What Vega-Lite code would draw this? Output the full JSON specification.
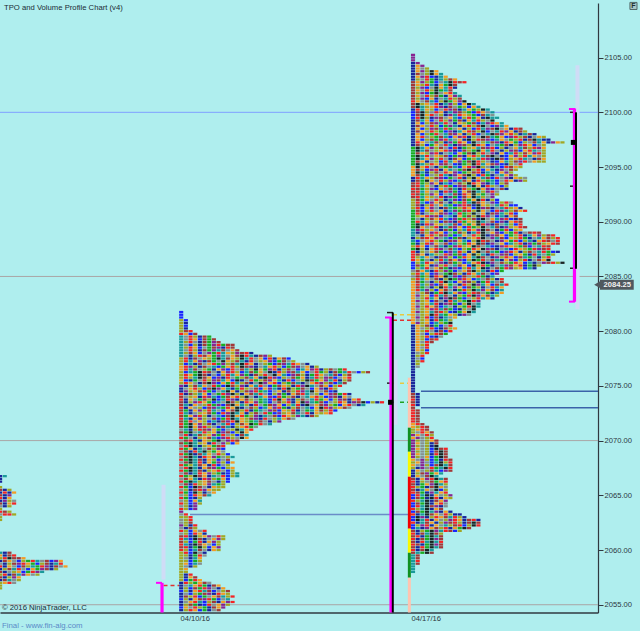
{"$schema":"https://vega.github.io/schema/vega-lite/v6.json","width":598,"height":609.5,"autosize":"none","padding":{"left":0,"top":3,"right":42,"bottom":18.5},"background":"#AFEEEE","config":{"view":{"stroke":null},"font":"Liberation Sans"},
"datasets":{
"a":[{"p":2066.75,"c":[1,9]},{"p":2066.5,"c":[1]},{"p":2066.25,"c":[1]},{"p":2065.75,"c":[6]},{"p":2065.5,"c":[4,1,6]},{"p":2065.25,"c":[1,3,1,5]},{"p":2065,"c":[4,1,8]},{"p":2064.75,"c":[3,1,5]},{"p":2064.5,"c":[1,8,6,7]},{"p":2064.25,"c":[4,1,5,3]},{"p":2064,"c":[7,1,6]},{"p":2063.75,"c":[6]},{"p":2063.5,"c":[3,4,6]},{"p":2063.25,"c":[7,3,3,6]},{"p":2063,"c":[6]},{"p":2062.75,"c":[6]},{"p":2059.75,"c":[9,1,4]},{"p":2059.5,"c":[5,1,4,3]},{"p":2059.25,"c":[6,3,0,4,4,5]},{"p":2059,"c":[1,4,5,7,2,6,10,3,9,7,4,2,8,5]},{"p":2058.75,"c":[7,1,6,4,8,3,5,10,2,6,4,1,9,3]},{"p":2058.5,"c":[3,1,5,7,2,4,6,9,10,3,8,1,4,7,5]},{"p":2058.25,"c":[1,6,4,9,3,7,2,5,10,8,4,1,6]},{"p":2058,"c":[4,1,7,6,5,2,10,3,8,9]},{"p":2057.75,"c":[6,3,1,4,9,8,5,7,6]},{"p":2057.5,"c":[4,1,6,8,5]},{"p":2057.25,"c":[1,4,9,7,6]},{"p":2057,"c":[6,5,3,7]},{"p":2056.75,"c":[6]},{"p":2056.5,"c":[6]}],
"b":[{"p":2081.75,"c":[2]},{"p":2081.5,"c":[2]},{"p":2081.25,"c":[2]},{"p":2081,"c":[6,2]},{"p":2080.75,"c":[6,1]},{"p":2080.5,"c":[6,2]},{"p":2080.25,"c":[6,1]},{"p":2080,"c":[6,4,3]},{"p":2079.75,"c":[3,5,2,4]},{"p":2079.5,"c":[9,7,3,6,1,4,10]},{"p":2079.25,"c":[9,7,3,5,2,4,10,4]},{"p":2079,"c":[9,6,3,7,1,4,10,8,4]},{"p":2078.75,"c":[9,7,2,6,1,4,10,8,3,10,4,4]},{"p":2078.5,"c":[9,6,3,5,2,7,10,4,8,1,3,4]},{"p":2078.25,"c":[9,7,3,6,1,4,10,8,9,4,7,5,4]},{"p":2078,"c":[9,6,4,5,2,7,8,10,3,9,5,6,8,4,3,1]},{"p":2077.75,"c":[9,7,1,6,3,4,5,10,8,9,7,5,4,0,3,9,1,4,8,6]},{"p":2077.5,"c":[6,3,1,4,7,5,6,10,0,9,4,5,6,0,9,3,7,5,2,3,1,5,4,2]},{"p":2077.25,"c":[6,3,9,5,8,1,4,10,7,0,5,6,4,9,1,3,7,6,5,8,2,10,4,7,6]},{"p":2077,"c":[6,2,9,1,4,7,5,3,10,8,6,4,9,0,3,5,1,7,6,10,2,4,8,9,3,5,7,1]},{"p":2076.75,"c":[5,3,8,6,1,4,7,9,2,10,5,3,6,0,4,8,1,7,9,5,3,6,2,10,4,8,7,5,1,6]},{"p":2076.5,"c":[5,3,9,4,7,6,10,1,5,8,2,3,7,4,9,6,0,5,10,8,3,1,6,4,7,2,9,5,8,3,1,6,4,7,10,3]},{"p":2076.25,"c":[6,2,9,10,0,3,4,7,1,5,8,3,6,2,9,4,10,5,7,0,1,3,6,8,4,9,5,2,7,3,10,6,1,4,10,9,3,7,2,6,4]},{"p":2076,"c":[6,3,5,10,0,4,1,7,2,6,3,9,5,8,10,1,4,6,3,7,0,5,9,2,8,4,6,1,10,3,5,7,9,4,2,6,4]},{"p":2075.75,"c":[6,3,6,9,0,4,5,2,8,1,3,7,10,6,4,9,5,1,0,3,8,2,6,7,4,10,5,1,9,3,6,8,4,2,7,5,3]},{"p":2075.5,"c":[5,2,1,10,7,3,6,8,4,9,5,2,0,1,7,3,10,6,4,8,5,9,1,3,2,7,6,0,4,10,5,8,9,3,1,6,4]},{"p":2075.25,"c":[6,3,5,7,1,4,0,8,2,5,10,3,9,6,4,1,7,0,8,5,3,2,6,10,4,9,1,7,5,3,8,6,4,2,9,4]},{"p":2075,"c":[8,1,6,4,9,5,7,3,10,2,0,4,6,8,1,5,9,3,7,2,10,4,5,6,1,3,8,0,9,7,4,5,2,6,3]},{"p":2074.75,"c":[1,7,5,3,6,2,4,0,8,5,9,1,10,3,6,7,4,2,5,8,9,1,3,0,6,10,4,7,2,5,8,1,3,6]},{"p":2074.5,"c":[1,8,6,5,4,3,10,2,7,9,0,5,1,6,4,8,3,10,9,2,7,5,1,4,6,3,8,9,0,5,7,4,2,1]},{"p":2074.25,"c":[3,1,4,6,9,5,2,7,10,3,8,0,6,1,5,4,9,3,7,2,6,8,10,1,5,4,3,9,7,6,2,5,8,4,10,3,1]},{"p":2074,"c":[4,7,6,5,1,3,8,9,2,10,4,5,3,6,0,7,1,9,5,8,2,3,10,6,4,1,7,9,5,3,6,2,8,4,1,5,7]},{"p":2073.75,"c":[3,1,5,7,10,4,6,0,2,9,3,8,1,5,4,6,7,10,9,2,3,0,5,8,1,6,4,7,9,3,10,5,2,6,8,4,1,5,3]},{"p":2073.5,"c":[4,1,6,8,3,5,10,2,9,7,0,4,6,1,3,5,8,10,9,2,7,4,6,3,1,5,0,8,9,10,4,2,7,6,3,5,1,8,4,0,2,6,1,3]},{"p":2073.25,"c":[4,9,1,5,7,6,3,10,8,2,4,0,5,9,6,1,3,7,10,4,8,5,2,6,9,3,1,0,7,5,4,8,6,10,2,5,3,7,1,9]},{"p":2073,"c":[3,1,5,7,6,2,4,8,9,10,3,5,0,1,7,4,6,2,9,5,8,3,10,1,6,4,7,9,2,5,0,3,8,6,5,4,7]},{"p":2072.75,"c":[4,10,1,5,8,6,3,9,7,2,5,4,0,6,3,1,10,9,7,8,4,2,5,6,3,1,7,10,9,5,4,6,3,2]},{"p":2072.5,"c":[3,9,1,7,6,5,4,10,2,3,8,0,9,5,1,6,4,7,3,10,2,8,6,5,4,9,7,3,1,5,6,5,3]},{"p":2072.25,"c":[4,10,5,8,3,6,1,7,9,2,4,0,5,3,10,6,8,1,9,7,4,2,3,5,6,8,9,1,4,6]},{"p":2072,"c":[3,9,1,5,8,6,7,4,2,10,3,0,9,5,6,4,8,1,3,7,6,9,5,4,7]},{"p":2071.75,"c":[4,10,3,7,5,6,2,9,1,4,8,3,0,5,6,10,9,4,7,1,6,8]},{"p":2071.5,"c":[3,10,0,5,8,6,4,1,7,9,3,2,6,4,5,0,10,3,7,9]},{"p":2071.25,"c":[4,10,0,5,8,3,6,7,2,4,9,1,6,5,3,10,7]},{"p":2071,"c":[7,9,1,6,3,4,8,5,10,2,7,6,0,9,5,3]},{"p":2070.75,"c":[4,10,0,7,9,3,6,5,1,8,4,2,6,0,5]},{"p":2070.5,"c":[7,3,1,9,4,6,5,8,10,3,7,6,2,4,9]},{"p":2070.25,"c":[3,10,7,1,6,5,4,9,2,8,3,6,7,0,5]},{"p":2070,"c":[7,4,3,9,1,5,6,10,0,7,8,3,4]},{"p":2069.75,"c":[4,10,0,9,6,5,1,3,7,8,6,2,5]},{"p":2069.5,"c":[7,3,0,9,1,6,5,10,4,3]},{"p":2069.25,"c":[3,10,5,1,9,7,4,6,8,2]},{"p":2069,"c":[7,4,1,3,9,0,6,10,5,7]},{"p":2068.75,"c":[3,10,0,1,4,9,5,7,3,6,2]},{"p":2068.5,"c":[7,4,0,9,1,3,5,8,10,7,6,9]},{"p":2068.25,"c":[3,10,0,9,4,1,5,6,2,7,4]},{"p":2068,"c":[7,4,0,9,3,1,5,10,8,6,2,5]},{"p":2067.75,"c":[3,10,6,9,4,5,1,3,2,7,6]},{"p":2067.5,"c":[7,3,0,9,1,5,4,8,10,2,6,5]},{"p":2067.25,"c":[3,10,0,9,4,1,6,5,3,7,2,6]},{"p":2067,"c":[7,4,1,9,3,5,8,6,10,1,2,6,9]},{"p":2066.75,"c":[3,10,6,0,4,5,1,9,7,3,2,6,9]},{"p":2066.5,"c":[7,4,5,9,1,3,8,6,10,5,2]},{"p":2066.25,"c":[3,10,0,9,6,5,4,7,1,6,2]},{"p":2066,"c":[7,4,1,3,6,5,8,9,10,6]},{"p":2065.75,"c":[3,10,2,0,4,7,1,5,6,6]},{"p":2065.5,"c":[7,6,1,4,3,8,5,6,6]},{"p":2065.25,"c":[3,10,2,0,6,1,7,5]},{"p":2065,"c":[7,6,2,3,5,4,9]},{"p":2064.75,"c":[3,10,2,1,6]},{"p":2064.5,"c":[7,6,2,5,9]},{"p":2064.25,"c":[3,6,2,8,6]},{"p":2064,"c":[7,6,1,8]},{"p":2063.75,"c":[3,6,2,8]},{"p":2063.5,"c":[8]},{"p":2063.25,"c":[7,3]},{"p":2063,"c":[6,6,3]},{"p":2062.75,"c":[7,6,3]},{"p":2062.5,"c":[7,6,4]},{"p":2062.25,"c":[8,6,1,3]},{"p":2062,"c":[7,1,4,6]},{"p":2061.75,"c":[3,6,2,5,7,3]},{"p":2061.5,"c":[7,6,2,3,5,1]},{"p":2061.25,"c":[4,3,1,0,6,5,8,7,3,6]},{"p":2061,"c":[3,9,2,0,4,1,7,5,8,6]},{"p":2060.75,"c":[4,6,2,10,3,1,5,8,6]},{"p":2060.5,"c":[3,9,1,0,4,5,7,2,6]},{"p":2060.25,"c":[4,3,1,10,0,6,2,5,8]},{"p":2060,"c":[3,6,2,9,4,7,1,5,6]},{"p":2059.75,"c":[6,3,2,0,7,1]},{"p":2059.5,"c":[6,6,1,10,3,7]},{"p":2059.25,"c":[6,7,1,9,5]},{"p":2059,"c":[6,6,2,10,6]},{"p":2058.75,"c":[6,5,2,9,7]},{"p":2058.5,"c":[6,7,1,6]},{"p":2058.25,"c":[6,5]},{"p":2058,"c":[6,6]},{"p":2057.75,"c":[6,1,3]},{"p":2057.5,"c":[6,1,5,4]},{"p":2057.25,"c":[6,2,10,3,5]},{"p":2057,"c":[1,3,6,10,5,4,7]},{"p":2056.75,"c":[1,7,9,5,3,10,1,4,5]},{"p":2056.5,"c":[1,6,2,4,10,3,8,7,1,5]},{"p":2056.25,"c":[2,6,1,5,3,9,4,2,7,6,4]},{"p":2056,"c":[1,7,2,6,10,4,8,1,3,5,6]},{"p":2055.75,"c":[1,4,6,3,2,10,7,5,4,9,6,3]},{"p":2055.5,"c":[2,6,1,5,4,8,3,10,2,7,9]},{"p":2055.25,"c":[1,7,5,3,9,2,6,4,1,5,8,3]},{"p":2055,"c":[1,6,4,10,1,2,3,7,5,8,6]},{"p":2054.75,"c":[2,5,7,3,6,10,1,4,5,8]},{"p":2054.5,"c":[1,6,3,5,2,10,1,7,4]}],
"c":[{"p":2105.25,"c":[8]},{"p":2105,"c":[8]},{"p":2104.75,"c":[8]},{"p":2104.5,"c":[1,8]},{"p":2104.25,"c":[1,5,8]},{"p":2104,"c":[1,5,7,6]},{"p":2103.75,"c":[1,5,8,6,0,5]},{"p":2103.5,"c":[1,4,7,6,0,5,9]},{"p":2103.25,"c":[1,5,8,3,2,1,9,5]},{"p":2103,"c":[1,6,7,3,10,1,9,6,4,5]},{"p":2102.75,"c":[4,5,8,6,10,2,7,9,0,3,4,3]},{"p":2102.5,"c":[4,5,6,3,9,1,5,10,0,4]},{"p":2102.25,"c":[4,6,8,2,7,0,5,9,3,1]},{"p":2102,"c":[4,5,7,3,6,0,10,9,4]},{"p":2101.75,"c":[4,6,8,2,10,0,7,5,3,9]},{"p":2101.5,"c":[4,5,7,3,6,4,10,1,5,8,9]},{"p":2101.25,"c":[4,6,8,2,5,1,7,9,3,6,4]},{"p":2101,"c":[3,5,7,4,9,2,6,0,10,5,8,0]},{"p":2100.75,"c":[4,0,6,5,7,3,1,9,8,6,2,5,0,9]},{"p":2100.5,"c":[4,0,9,6,5,3,8,1,4,7,10,6,2,5,9]},{"p":2100.25,"c":[1,3,9,5,6,2,7,3,8,4,1,9,5,10,6,0,9]},{"p":2100,"c":[2,4,0,6,7,3,5,1,9,8,4,6,10,2,3,5,7,9]},{"p":2099.75,"c":[2,4,0,5,3,7,6,1,8,9,3,5,6,10,2,4,9,7]},{"p":2099.5,"c":[2,3,0,6,1,8,4,7,5,9,2,6,3,10,5,1,0,9,9]},{"p":2099.25,"c":[1,4,9,5,2,7,3,6,8,10,4,1,5,9,3,6,7,0]},{"p":2099,"c":[1,5,2,6,4,8,9,3,7,1,5,6,10,4,2,9,8,3,5,9]},{"p":2098.75,"c":[1,4,5,7,3,6,2,10,8,9,1,5,3,6,4,0,7,2,8,9,5]},{"p":2098.5,"c":[1,5,2,6,8,4,9,3,10,7,5,1,6,2,3,9,8,4,0,7,5,1,3,4]},{"p":2098.25,"c":[1,4,5,7,3,6,10,2,8,1,9,5,3,4,6,0,2,7,9,3,8,5,1,4,6]},{"p":2098,"c":[1,5,2,6,10,3,7,9,4,8,5,1,6,3,2,7,9,0,4,8,5,3,6,1,9,4,1]},{"p":2097.75,"c":[1,5,3,7,6,10,4,9,2,5,8,3,1,6,7,0,4,9,10,5,2,8,3,6,4,1,7,5,6]},{"p":2097.5,"c":[1,5,2,6,4,10,8,3,9,7,5,1,0,6,3,4,8,2,9,5,7,10,6,3,1,4,0,9,1,1]},{"p":2097.25,"c":[1,3,5,7,9,4,6,1,8,10,3,5,2,0,7,6,9,4,8,1,3,5,10,2,6,7,4,9,5,1,8,5,6]},{"p":2097,"c":[1,4,6,2,10,5,7,3,9,1,8,4,6,0,3,5,2,7,9,10,4,1,6,8,3,5,2,7,6]},{"p":2096.75,"c":[10,0,9,5,8,6,4,7,2,3,1,10,6,5,9,4,8,3,2,6,1,7,5,9,4,6,3,8,5]},{"p":2096.5,"c":[10,0,9,4,7,6,5,3,8,1,2,4,6,10,0,5,9,3,7,1,6,8,4,2,5,3,9,7,6]},{"p":2096.25,"c":[10,4,5,6,8,3,1,7,9,2,5,10,4,0,6,3,7,8,1,5,2,9,3,6,4,5,8,3,6]},{"p":2096,"c":[10,0,9,3,7,5,6,4,2,10,8,1,5,3,6,9,4,0,7,1,2,5,8,6,3,9,5,7,6]},{"p":2095.75,"c":[10,0,9,5,8,6,3,7,1,4,5,2,10,6,9,3,8,1,0,4,2,6,5,3,9,7,1,4,5]},{"p":2095.5,"c":[10,4,5,1,7,6,2,3,9,5,8,10,4,0,3,6,7,1,2,5,9,6,4,8,3,7,5,6,6]},{"p":2095.25,"c":[10,0,9,6,3,5,8,4,7,2,1,10,6,0,3,9,5,4,8,2,1,6,7,3]},{"p":2095,"c":[5,0,5,3,7,1,6,10,4,9,2,5,3,8,0,6,7,1,9,2,3,4,5,6]},{"p":2094.75,"c":[5,4,6,2,8,3,1,5,9,7,10,4,0,6,3,2,5,9,1,8,7,4,6]},{"p":2094.5,"c":[5,0,9,1,6,4,7,3,5,8,2,10,6,4,3,1,9,7,2,5,8,6]},{"p":2094.25,"c":[5,4,10,2,7,6,3,9,1,8,5,4,0,6,2,3,10,1,7,9,5,8,6]},{"p":2094,"c":[1,3,9,5,6,4,8,2,10,7,3,1,6,0,5,9,4,2,3,7,8,1,5,6,7]},{"p":2093.75,"c":[1,4,10,0,5,7,3,6,8,2,9,4,5,1,3,6,10,9,2,7,3,5,1,8,6]},{"p":2093.5,"c":[4,3,10,6,8,5,1,9,2,7,4,6,0,3,5,8,1,9,2,6,4]},{"p":2093.25,"c":[4,3,9,5,7,1,6,3,10,2,8,4,9,0,5,1,3,6,7,2,6]},{"p":2093,"c":[3,4,10,6,8,2,5,7,4,9,1,3,6,10,0,5,8,2,7,4,1]},{"p":2092.75,"c":[4,3,9,5,7,6,1,3,8,10,2,5,4,0,9,6,8,3,7]},{"p":2092.5,"c":[3,4,10,6,8,5,2,7,9,4,1,3,5,0,6,10,7,8,6]},{"p":2092.25,"c":[4,3,9,5,6,7,3,1,8,10,2,4,5,0,9,6,7,8]},{"p":2092,"c":[6,4,10,5,7,3,6,1,9,8,2,4,10,5,0,3,1,6,2]},{"p":2091.75,"c":[6,3,9,2,8,5,4,7,1,6,10,3,9,0,4,5,7,8,2,6,3,7]},{"p":2091.5,"c":[6,4,1,6,3,7,5,9,10,2,8,3,4,1,0,5,6,7,9,3,6,2,2]},{"p":2091.25,"c":[6,3,2,5,8,7,1,4,9,10,6,3,5,2,0,8,4,1,7,9,3,6,5,1]},{"p":2091,"c":[10,4,2,6,3,7,5,1,9,8,10,4,3,6,0,5,7,2,3,8,9,6,4,5,3]},{"p":2090.75,"c":[10,3,1,7,6,5,4,8,2,9,3,10,6,0,7,5,1,4,8,9,6,3,2]},{"p":2090.5,"c":[10,6,5,3,8,4,2,7,9,1,5,10,4,6,0,3,8,7,2,9,1,5,4]},{"p":2090.25,"c":[10,7,1,6,4,5,3,9,2,8,10,3,6,4,1,0,7,5,9,8,3,2,1,4]},{"p":2090,"c":[10,3,9,5,7,6,2,4,8,1,3,10,5,6,0,9,7,4,2,8,1,5,3,4]},{"p":2089.75,"c":[10,0,1,3,8,5,6,7,9,4,2,6,10,5,0,3,8,1,4,7,9,6,2,3]},{"p":2089.5,"c":[10,0,5,7,6,3,1,9,4,8,5,2,3,10,6,0,7,9,4,1,8,6,5,3,4]},{"p":2089.25,"c":[9,8,3,6,5,7,1,4,10,2,6,9,3,5,8,0,4,7,1,10,3,2,6,5]},{"p":2089,"c":[9,1,4,6,8,3,5,2,7,10,4,6,1,9,3,0,7,5,8,2,6,10,3,1,7,4,3,4]},{"p":2088.75,"c":[9,7,1,5,3,6,4,8,10,2,9,5,7,3,6,0,1,8,4,5,2,10,6,3,1,9,5,8,6,4,3]},{"p":2088.5,"c":[1,6,4,3,5,8,7,9,2,10,4,1,6,5,3,0,7,8,9,4,2,5,6,3,10,1,7,9,5,4,6,3]},{"p":2088.25,"c":[9,2,7,5,3,6,10,1,4,8,5,9,2,6,0,3,4,7,1,8,5,10,3,2,6,9,1,5,3,4,7,3]},{"p":2088,"c":[10,1,6,3,8,5,7,4,2,9,6,10,3,5,0,4,1,8,7,5,2,9,6,3,1,8,10,4,6,5,3,4]},{"p":2087.75,"c":[6,3,5,2,7,4,9,1,10,8,3,6,5,0,4,7,9,2,1,8,3,5,6,10,4,2,7,9,3,4]},{"p":2087.5,"c":[10,0,6,1,5,3,8,7,4,9,2,6,10,3,5,0,8,4,1,7,9,2,3,5,6,10,3,8,4,3]},{"p":2087.25,"c":[3,1,6,7,5,4,10,2,8,9,3,6,1,5,0,7,4,9,10,2,8,3,5,1,6,4,7,9,3,10,2,1]},{"p":2087,"c":[3,4,5,1,9,6,7,3,8,10,4,2,5,0,6,9,1,3,7,8,4,2,6,5,10,1,3,9,7,10,6]},{"p":2086.75,"c":[3,6,9,5,7,1,4,8,6,2,10,3,5,9,0,4,7,1,8,6,3,5,2,4,9,10,7,1,6,3]},{"p":2086.5,"c":[3,5,10,7,1,6,3,9,4,5,8,2,6,0,10,3,7,4,9,1,5,8,2,6,3,1,7,4,5,0]},{"p":2086.25,"c":[2,6,9,3,5,7,8,1,4,10,6,2,9,5,3,0,1,8,7,4,6,10,3,5,2,9,1,7,8,4,3,6,0]},{"p":2086,"c":[2,4,10,5,1,8,6,3,7,9,4,5,2,0,6,3,10,1,7,9,8,4,5,3,1,10,0,6]},{"p":2085.75,"c":[2,6,9,3,7,5,4,10,1,8,2,6,3,9,5,0,1,7,4,10,3,8,6,5,2,9,1]},{"p":2085.5,"c":[7,4,5,9,1,3,6,8,10,2,7,5,4,0,6,9,1,3,2,10]},{"p":2085.25,"c":[6,3,9,5,2,8,7,10,0,4,6,1,3,5,9,4,7,2,8]},{"p":2085,"c":[7,4,10,6,1,3,5,0,9,8,2,4,7,6,3,10,1,9]},{"p":2084.75,"c":[6,3,9,5,7,4,1,6,0,10,8,3,5,2,9,7,4,6,1,3]},{"p":2084.5,"c":[5,4,10,7,1,6,3,0,9,2,5,8,4,6,1,10,3,9,7,4]},{"p":2084.25,"c":[5,3,9,6,8,2,4,5,10,7,1,3,6,0,8,9,5,2,4,9,3]},{"p":2084,"c":[5,4,10,7,1,6,0,3,9,8,5,2,4,10,6,1,7,3,9,5]},{"p":2083.75,"c":[5,3,9,8,6,2,5,4,7,1,10,3,6,0,9,8,5,4,2,9]},{"p":2083.5,"c":[5,7,6,4,1,10,3,0,9,5,8,2,6,3,4,7,10,1,9,5]},{"p":2083.25,"c":[5,8,6,5,2,3,9,4,7,1,6,10,3,0,8,5,4,9,6]},{"p":2083,"c":[5,7,6,3,9,5,1,8,0,4,10,2,7,6,3,9,5,1]},{"p":2082.75,"c":[5,8,6,5,2,4,7,1,3,9,6,10,0,3,8]},{"p":2082.5,"c":[5,7,6,5,9,3,1,8,4,10,2,6,0,7,9]},{"p":2082.25,"c":[5,8,6,3,5,4,2,9,7,1,6,10,3,0,9]},{"p":2082,"c":[5,7,6,5,8,3,9,4,10,2,1,6,7,0]},{"p":2081.75,"c":[5,8,6,5,9,4,3,6,2,1,10,5,0,9]},{"p":2081.5,"c":[5,7,6,5,0,3,9,10,5,6,1,8,7]},{"p":2081.25,"c":[5,8,6,3,2,4,1,9,7,5]},{"p":2081,"c":[5,7,6,5,1,3,10,9,6]},{"p":2080.75,"c":[5,8,6,5,2,9,6,10,0]},{"p":2080.5,"c":[1,5,6,4,1,10,2,7,3]},{"p":2080.25,"c":[1,5,7,6,3,2,1,4,6,5]},{"p":2080,"c":[1,5,6,3,7,1,4,2,3]},{"p":2079.75,"c":[1,5,7,2,6,3,4,10]},{"p":2079.5,"c":[1,5,6,3,2,1,7]},{"p":2079.25,"c":[1,5,6,2,4,3]},{"p":2079,"c":[1,5,7,3,4]},{"p":2078.75,"c":[1,5,6,3]},{"p":2078.5,"c":[1,5,7,3]},{"p":2078.25,"c":[1,5,6,2]},{"p":2078,"c":[1,7,6,3]},{"p":2077.75,"c":[1,6,3]},{"p":2077.5,"c":[1,7,2]},{"p":2077.25,"c":[1,6,3]},{"p":2077,"c":[1,6]},{"p":2076.75,"c":[1,7]},{"p":2076.5,"c":[1]},{"p":2076.25,"c":[1]},{"p":2076,"c":[1]},{"p":2075.75,"c":[1]},{"p":2075.5,"c":[1]},{"p":2075.25,"c":[1]},{"p":2075,"c":[1]},{"p":2074.75,"c":[1]},{"p":2074.5,"c":[1]},{"p":2074.25,"c":[4,1]},{"p":2074,"c":[4,1]},{"p":2073.75,"c":[3,1]},{"p":2073.5,"c":[4,1]},{"p":2073.25,"c":[3,1]},{"p":2073,"c":[4]},{"p":2072.75,"c":[3,4]},{"p":2072.5,"c":[3,4]},{"p":2072.25,"c":[3,4]},{"p":2072,"c":[3,4]},{"p":2071.75,"c":[3,4]},{"p":2071.5,"c":[5,3,4]},{"p":2071.25,"c":[5,6,3,4]},{"p":2071,"c":[6,5,3,4]},{"p":2070.75,"c":[6,7,3,5,4]},{"p":2070.5,"c":[8,5,7,3,6]},{"p":2070.25,"c":[5,8,7,6,3]},{"p":2070,"c":[8,6,7,6,5,4]},{"p":2069.75,"c":[8,5,7,6,1,4]},{"p":2069.5,"c":[8,6,7,6,1,0]},{"p":2069.25,"c":[8,5,7,6,2,0,4,3]},{"p":2069,"c":[8,6,7,6,2,4,0,4]},{"p":2068.75,"c":[8,5,7,6,1,3,0,4]},{"p":2068.5,"c":[8,6,7,5,2,10,0,4]},{"p":2068.25,"c":[5,7,8,6,2,10,1,3,4]},{"p":2068,"c":[6,5,8,7,2,9,0,6,3]},{"p":2067.75,"c":[5,7,8,6,2,4,0,9,4]},{"p":2067.5,"c":[6,1,8,7,3,10,9,0,3]},{"p":2067.25,"c":[1,5,7,6,4,9,2,8,4]},{"p":2067,"c":[1,6,4,8,10,5,9]},{"p":2066.75,"c":[1,5,7,4,0,9]},{"p":2066.5,"c":[4,1,5,8,3,0,9,4]},{"p":2066.25,"c":[3,1,6,7,4,10,5,3]},{"p":2066,"c":[4,1,10,5,8,0,9,6]},{"p":2065.75,"c":[3,6,10,1,4,0,5,7]},{"p":2065.5,"c":[4,1,9,5,7,0,2,6]},{"p":2065.25,"c":[3,4,10,1,8,9,5,3]},{"p":2065,"c":[2,3,9,0,1,5,7,6,8]},{"p":2064.75,"c":[2,4,10,1,0,3,1,5,6]},{"p":2064.5,"c":[3,6,9,0,1,4,5,8]},{"p":2064.25,"c":[2,4,10,0,1,5,3,7]},{"p":2064,"c":[2,3,9,0,4,8,1,7]},{"p":2063.75,"c":[3,6,9,0,1,5,4]},{"p":2063.5,"c":[2,4,10,0,9,8,1,5,1]},{"p":2063.25,"c":[3,1,9,0,4,5,7,3,6,1,1]},{"p":2063,"c":[2,0,8,1,6,3,5,4,9,3,6,1]},{"p":2062.75,"c":[2,0,9,3,1,5,7,6,8,3,5,1,4,3,1]},{"p":2062.5,"c":[3,1,9,4,5,1,6,8,4,3,6,1,4,0,4]},{"p":2062.25,"c":[2,6,8,3,1,5,7,9,6,4,3,2,6,0,3]},{"p":2062,"c":[2,9,1,8,5,4,6,3,1,5,10,0,4]},{"p":2061.75,"c":[4,1,6,10,0,8,9,3,4,2,6]},{"p":2061.5,"c":[3,1,4,9,0,4,6]},{"p":2061.25,"c":[4,3,1,10,0,9,4]},{"p":2061,"c":[3,1,4,10,0,8,4]},{"p":2060.75,"c":[4,1,3,9,0,9,3]},{"p":2060.5,"c":[3,4,1,10,0,8,4]},{"p":2060.25,"c":[4,1,3,10,0,9,4]},{"p":2060,"c":[3,1,4,0,9]},{"p":2059.75,"c":[4,9,10,0,4]},{"p":2059.5,"c":[9,4]},{"p":2059.25,"c":[9,4]},{"p":2059,"c":[9,3]},{"p":2058.75,"c":[9,4]},{"p":2058.5,"c":[9]},{"p":2058.25,"c":[9]},{"p":2058,"c":[9]}],
"segments":[
{"k":"price line blue","d":4.545,"d2":22.667,"p":2100,"p2":2100},
{"k":"price line grey","d":4.545,"d2":22.667,"p":2085,"p2":2085},
{"k":"price line grey","d":4.545,"d2":22.667,"p":2070,"p2":2070},
{"k":"price line grey","d":4.545,"d2":22.667,"p":2055,"p2":2055},
{"k":"naked poc light","d":10.303,"d2":16.97,"p":2063.25,"p2":2063.25},
{"k":"naked poc dark","d":17.303,"d2":22.667,"p":2074.5,"p2":2074.5},
{"k":"naked poc dark","d":17.303,"d2":22.667,"p":2073,"p2":2073},
{"k":"volume","d":9.5,"d2":9.5,"p":2065.96,"p2":2057.3},
{"k":"volume","d":16.53,"d2":16.53,"p":2077.4,"p2":2071.45},
{"k":"volume","d":22.045,"d2":22.045,"p":2104.3,"p2":2082},
{"k":"range","d":9.455,"d2":9.455,"p":2054.29,"p2":2057},
{"k":"flag","d":9.273,"d2":9.455,"p":2057,"p2":2057},
{"k":"dash red","d":9.5,"d2":9.97,"p":2056.75,"p2":2056.75},
{"k":"range","d":16.394,"d2":16.394,"p":2054.29,"p2":2081.3},
{"k":"flag","d":16.212,"d2":16.394,"p":2081.25,"p2":2081.25},
{"k":"initial","d":16.448,"d2":16.448,"p":2054.29,"p2":2081.7},
{"k":"tick","d":16.273,"d2":16.455,"p":2081.7,"p2":2081.7},
{"k":"tick","d":16.273,"d2":16.394,"p":2075.25,"p2":2075.25},
{"k":"dash gold","d":16.455,"d2":17,"p":2081.5,"p2":2081.5},
{"k":"dash red","d":16.455,"d2":17,"p":2081,"p2":2081},
{"k":"dash gold","d":16.455,"d2":17,"p":2075.25,"p2":2075.25},
{"k":"dash green","d":16.455,"d2":17,"p":2073.5,"p2":2073.5},
{"k":"range","d":21.954,"d2":21.954,"p":2082.68,"p2":2100.36},
{"k":"flag","d":21.787,"d2":21.97,"p":2100.3,"p2":2100.3},
{"k":"flag","d":21.787,"d2":21.97,"p":2082.7,"p2":2082.7},
{"k":"initial","d":22,"d2":22,"p":2085.7,"p2":2100},
{"k":"tick","d":21.818,"d2":21.97,"p":2100,"p2":2100},
{"k":"tick","d":21.818,"d2":21.97,"p":2093.25,"p2":2093.25},
{"k":"tick","d":21.818,"d2":21.97,"p":2085.75,"p2":2085.75},
{"k":"strip salmon","d":16.95,"d2":16.95,"p":2075.75,"p2":2071.18},
{"k":"strip green","d":16.95,"d2":16.95,"p":2071.18,"p2":2068.98},
{"k":"strip yellow","d":16.95,"d2":16.95,"p":2068.98,"p2":2066.7},
{"k":"strip red","d":16.95,"d2":16.95,"p":2066.7,"p2":2061.95},
{"k":"strip yellow","d":16.95,"d2":16.95,"p":2061.95,"p2":2059.75},
{"k":"strip green","d":16.95,"d2":16.95,"p":2059.75,"p2":2057.47},
{"k":"strip salmon","d":16.95,"d2":16.95,"p":2057.47,"p2":2054.29},
{"k":"last price","d":22.727,"d2":23.75,"p":2084.25,"p2":2084.25}
]},
"resolve":{"scale":{"x":"independent","color":"independent"},"axis":{"x":"independent"}},
"encoding":{"y":{"field":"p","type":"quantitative","scale":{"domain":[2054.29,2109.99],"zero":false,"nice":false},"axis":{"orient":"right","values":[2055,2060,2065,2070,2075,2080,2085,2090,2095,2100,2105],"format":".2f","title":null,"grid":false,"tickSize":5,"tickColor":"#303840","domainColor":"#303840","domainWidth":1.2,"labelColor":"#2c3640","labelFontSize":7.6,"labelPadding":1,"labelFont":"Liberation Sans"}}},
"layer":[
{"encoding":{"x":{"field":"d","type":"quantitative","scale":{"domain":[4.545,22.667],"zero":false,"nice":false},"axis":{"values":[10,17],"labelExpr":"'04/'+datum.value+'/16'","title":null,"grid":false,"ticks":false,"labelAlign":"left","labelBaseline":"top","labelPadding":2,"labelColor":"#2c3640","labelFontSize":7.6,"domainColor":"#303840","domainWidth":1.5,"labelFont":"Liberation Sans","labelFlush":false,"labelOverlap":false}}},
"layer":[
{"data":{"name":"segments"},"encoding":{"x2":{"field":"d2"},"y2":{"field":"p2"},
"color":{"field":"k","type":"nominal","legend":null,"scale":{"domain":["price line blue","price line grey","naked poc light","naked poc dark","volume","range","flag","initial","tick","dash red","dash gold","dash green","strip salmon","strip green","strip yellow","strip red","last price"],"range":["#80a0ff","#aaa6a6","#6a8cc8","#3a62a8","#cfdcf6","#ff00ff","#ff00ff","#000000","#202020","#e03030","#e8c840","#20a020","#ffc4b0","#109020","#f8f800","#f00000","#50585e"]}}},
"layer":[
{"transform":[{"filter":{"field":"k","oneOf":["price line blue","price line grey"]}}],"mark":{"type":"rule","strokeWidth":1}},
{"transform":[{"filter":{"field":"k","oneOf":["naked poc light","naked poc dark","tick"]}}],"mark":{"type":"rule","strokeWidth":1.5}},
{"transform":[{"filter":{"field":"k","oneOf":["dash red","dash gold","dash green"]}}],"mark":{"type":"rule","strokeWidth":1.5,"strokeDash":[4,3]}},
{"transform":[{"filter":{"field":"k","equal":"volume"}}],"mark":{"type":"rule","strokeWidth":4}},
{"transform":[{"filter":{"field":"k","equal":"range"}}],"mark":{"type":"rule","strokeWidth":3.2}},
{"transform":[{"filter":{"field":"k","oneOf":["flag","initial"]}}],"mark":{"type":"rule","strokeWidth":2}},
{"transform":[{"filter":{"field":"k","oneOf":["strip salmon","strip green","strip yellow","strip red"]}}],"mark":{"type":"rule","strokeWidth":3}},
{"transform":[{"filter":{"field":"k","equal":"last price"}}],"mark":{"type":"rule","strokeWidth":10}}
]},
{"data":{"values":[{"d":16.38,"p":2073.5},{"d":21.92,"p":2097.25}]},"mark":{"type":"point","shape":"square","filled":true,"size":25,"color":"#000000","opacity":1}},
{"data":{"values":[{"d":22.66,"p":2084.25}]},"mark":{"type":"point","shape":"triangle-left","filled":true,"size":70,"color":"#50585e","opacity":1}},
{"data":{"values":[{"d":23.25,"p":2084.25,"t":"2084.25"}]},"mark":{"type":"text","color":"#f0f0f0","fontSize":7.6,"fontWeight":"bold","align":"center","baseline":"middle"},"encoding":{"text":{"field":"t"}}},
{"data":{"values":[{"d":23.742,"p":2109.72}]},"mark":{"type":"point","shape":"square","filled":true,"size":50,"fill":"#a8c8c8","stroke":"#506868","strokeWidth":1,"opacity":1}},
{"data":{"values":[{"d":23.742,"p":2109.72,"t":"F"}]},"mark":{"type":"text","color":"#203030","fontSize":7,"fontWeight":"bold","align":"center","baseline":"middle"},"encoding":{"text":{"field":"t"}}},
{"data":{"values":[{"d":4.666,"p":2109.54,"t":"TPO and Volume Profile Chart (v4)"},{"d":4.606,"p":2054.73,"t":"© 2016 NinjaTrader, LLC"}]},"mark":{"type":"text","color":"#202c34","fontSize":7.7,"align":"left","baseline":"middle"},"encoding":{"text":{"field":"t"}}},
{"data":{"values":[{"d":4.606,"p":2053.08,"t":"Final - www.fin-alg.com"}]},"mark":{"type":"text","color":"#5a8ac8","fontSize":7.8,"align":"left","baseline":"middle"},"encoding":{"text":{"field":"t"}}}
]},
{"data":{"name":"a"},"transform":[{"flatten":["c"]},{"window":[{"op":"row_number","as":"n"}],"groupby":["p"]}],"mark":{"type":"point","shape":"M-1,-0.55H1V0.55H-1Z","filled":true,"size":17,"opacity":0.85,"strokeWidth":0},"encoding":{"x":{"field":"n","type":"quantitative","axis":null,"scale":{"domain":[0.98,129.03],"zero":false,"nice":false}},"color":{"field":"c","type":"nominal","legend":null,"scale":{"domain":[0,1,2,3,4,5,6,7,8,9,10],"range":["#000000","#00008b","#0000ff","#ff0000","#a01818","#ff8c00","#a09a00","#808080","#800080","#008b8b","#00a000"]}}}},
{"data":{"name":"b"},"transform":[{"flatten":["c"]},{"window":[{"op":"row_number","as":"n"}],"groupby":["p"]}],"mark":{"type":"point","shape":"M-1,-0.55H1V0.55H-1Z","filled":true,"size":17,"opacity":0.85,"strokeWidth":0},"encoding":{"x":{"field":"n","type":"quantitative","axis":null,"scale":{"domain":[-37.8,90.25],"zero":false,"nice":false}},"color":{"field":"c","type":"nominal","legend":null,"scale":{"domain":[0,1,2,3,4,5,6,7,8,9,10],"range":["#000000","#00008b","#0000ff","#ff0000","#a01818","#ff8c00","#a09a00","#808080","#800080","#008b8b","#00a000"]}}}},
{"data":{"name":"c"},"transform":[{"flatten":["c"]},{"window":[{"op":"row_number","as":"n"}],"groupby":["p"]}],"mark":{"type":"point","shape":"M-1,-0.55H1V0.55H-1Z","filled":true,"size":17,"opacity":0.85,"strokeWidth":0},"encoding":{"x":{"field":"n","type":"quantitative","axis":null,"scale":{"domain":[-87.44,40.61],"zero":false,"nice":false}},"color":{"field":"c","type":"nominal","legend":null,"scale":{"domain":[0,1,2,3,4,5,6,7,8,9,10],"range":["#000000","#00008b","#0000ff","#ff0000","#a01818","#ff8c00","#a09a00","#808080","#800080","#008b8b","#00a000"]}}}}
]}
